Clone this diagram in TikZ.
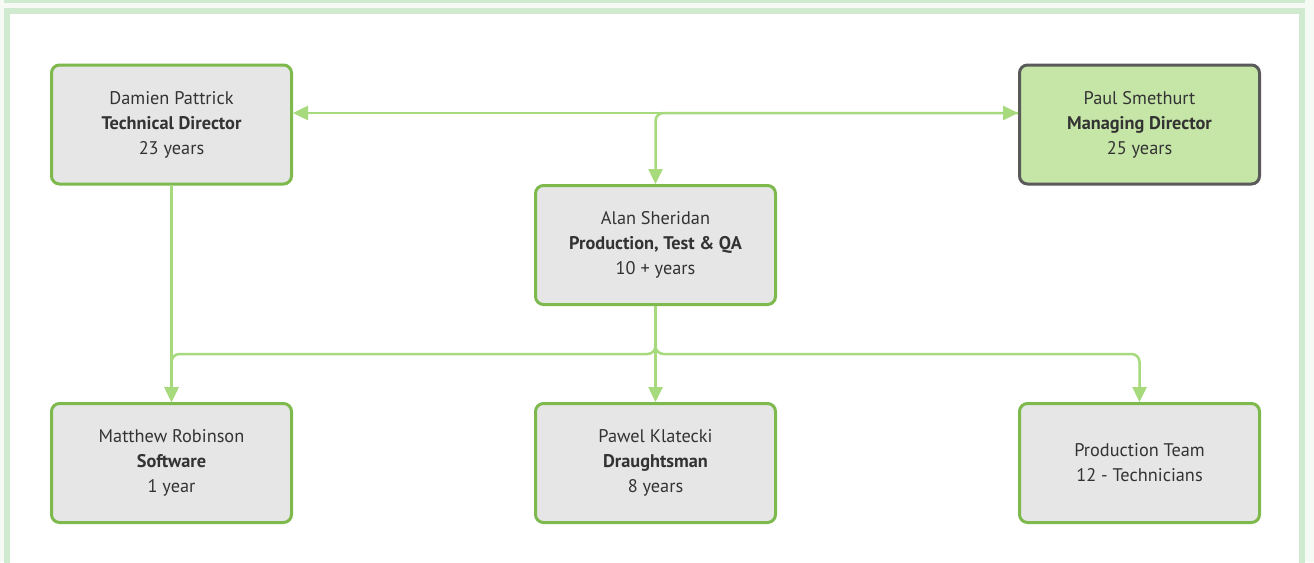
\documentclass[tikz,border=0pt]{standalone}
\usepackage{fontspec}
\setmainfont{PT Sans}
\usetikzlibrary{arrows.meta}
\definecolor{bgl}{HTML}{F5FAF5}
\definecolor{frm}{HTML}{D0EAD0}
\definecolor{nbord}{HTML}{7DB94C}
\definecolor{nfill}{HTML}{E6E6E6}
\definecolor{pfill}{HTML}{C6E6A8}
\definecolor{pbord}{HTML}{5A5A5A}
\definecolor{conn}{HTML}{A6DA7C}
\definecolor{txt}{HTML}{333333}
\tikzset{
  person/.style={draw=nbord, fill=nfill, line width=3pt, rounded corners=8pt,
    minimum width=240pt, minimum height=119pt, align=center, text=txt,
    font=\fontsize{18.3}{25}\selectfont, inner sep=0pt,
    execute at begin node={\rule{0pt}{22pt}}},
  boss/.style={person, draw=pbord, fill=pfill},
  link/.style={draw=conn, line width=2.5pt, -{Triangle[length=15pt,width=14pt]}},
}
\begin{document}
\begin{tikzpicture}[x=1pt,y=1pt]
\useasboundingbox (0,0) rectangle (1314,-562);
\fill[bgl] (0,0) rectangle (1314,-562);
% previous panel bottom edge
\fill[frm] (4,0) rectangle (1305,-3.2);
% current panel
\draw[frm, line width=6pt, fill=white] (7,-11) rectangle (1302,-600);
% nodes
\node[person] (damien) at (171.5,-124.5) {Damien Pattrick\\\textbf{Technical Director}\\23 years};
\node[boss] (paul) at (1139.5,-124.5) {Paul Smethurt\\\textbf{Managing Director}\\25 years};
\node[person] (alan) at (655.5,-245) {Alan Sheridan\\\textbf{Production, Test \& QA}\\10 + years};
\node[person] (matthew) at (171.5,-463) {Matthew Robinson\\\textbf{Software}\\1 year};
\node[person] (pawel) at (655.5,-463) {Pawel Klatecki\\\textbf{Draughtsman}\\8 years};
\node[person] (team) at (1139.5,-463) {Production Team\\12 - Technicians};
\coordinate (j) at (655.5,-354);
% connectors
\draw[link, {Triangle[length=15pt,width=14pt]}-{Triangle[length=15pt,width=14pt]}] ([yshift=11.5pt]damien.east) -- ([yshift=11.5pt]paul.west);
\draw[link, rounded corners=8pt] ([yshift=11.5pt]paul.west) -| (alan.north);
\draw[link] (damien.south) -- (matthew.north);
\draw[link] (alan.south) -- (pawel.north);
\draw[link, rounded corners=8pt] (alan.south) -- (j) -| (matthew.north);
\draw[link, rounded corners=8pt] (alan.south) -- (j) -| (team.north);
\end{tikzpicture}
\end{document}
